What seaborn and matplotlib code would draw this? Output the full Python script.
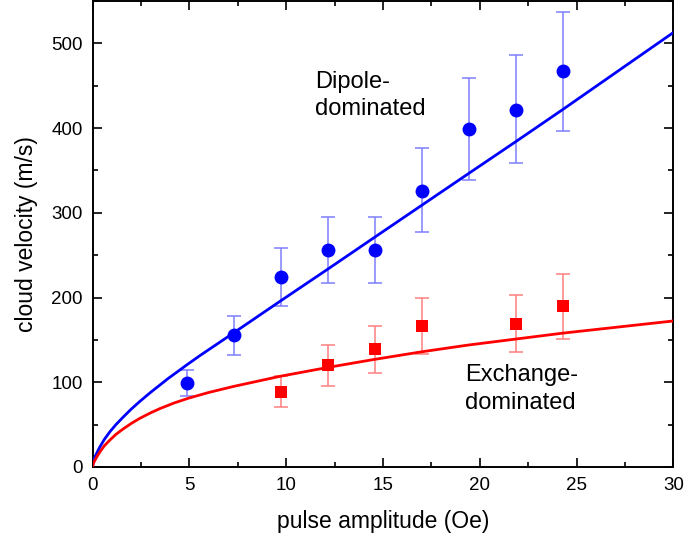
import numpy as np
import pandas as pd
import matplotlib
matplotlib.use("Agg")
import matplotlib.pyplot as plt
import seaborn as sns
from matplotlib.ticker import MultipleLocator

# ---- data ----
dip_x = [4.86, 7.28, 9.71, 12.14, 14.57, 17.0, 19.42, 21.85, 24.28]
dip_y = [99, 155.5, 224, 256.5, 256.5, 326, 399.5, 422, 467]
dip_lo = [84, 132, 190, 217.6, 217.6, 277, 339, 358.5, 397]
dip_hi = [114, 178, 258, 295, 295, 376, 459, 486, 537]

exc_x = [9.71, 12.14, 14.57, 17.0, 21.85, 24.28]
exc_y = [88.7, 120, 139, 166, 169, 190]
exc_lo = [71, 96, 111, 133, 136, 151.6]
exc_hi = [107, 144.5, 167, 199.5, 203, 228]

# fit curves
dipfit_x = [0, 0.03, 0.12, 0.2, 0.38, 0.6, 0.89, 1.2, 1.58, 2.0, 2.44, 2.96, 3.9, 4.86,
            5.54, 7.26, 9.67, 12.14, 14.55, 17.0, 19.42, 21.85, 24.28, 30]
dipfit_y = [0, 6, 12, 16, 24, 32.5, 41.6, 50, 59, 68.5, 77.5, 87.5, 104.5, 120.5,
            131.5, 158, 195.5, 233.5, 271, 309, 346.5, 384, 422, 513]
excfit_x = [0, 0.03, 0.12, 0.2, 0.38, 0.6, 0.89, 1.2, 1.58, 2.0, 2.44, 3.0, 3.48, 4.2,
            4.92, 6.0, 7.26, 9.67, 12.14, 14.55, 17.0, 19.42, 21.85, 24.28, 30]
excfit_y = [0, 4, 8, 11.5, 18, 25, 31.8, 38.5, 45, 51.5, 57.5, 64, 69, 75.5,
            81, 88, 95, 107, 117.5, 127, 136, 144, 151, 158, 172.4]

xlabel = "pulse amplitude (Oe)"
ylabel = "cloud velocity (m/s)"

sns.set_style("ticks")
plt.rcParams["font.family"] = ["Liberation Sans", "DejaVu Sans"]
plt.rcParams.update({"text.color": "black", "axes.labelcolor": "black",
                     "xtick.color": "black", "ytick.color": "black"})

fig = plt.figure(figsize=(6.85, 5.38), dpi=100)
ax = fig.add_axes([0.1353, 0.132, 0.9832 - 0.1353, 0.998 - 0.132])

BLUE = "#0000FF"
RED = "#FF0000"

dip = pd.DataFrame({"x": dip_x, "y": dip_y})
exc = pd.DataFrame({"x": exc_x, "y": exc_y})
dfit = pd.DataFrame({"x": dipfit_x, "y": dipfit_y})
efit = pd.DataFrame({"x": excfit_x, "y": excfit_y})

# error bars
ax.errorbar(dip_x, dip_y,
            yerr=[np.array(dip_y) - np.array(dip_lo), np.array(dip_hi) - np.array(dip_y)],
            fmt="none", ecolor="#7f7fff", elinewidth=1.1, capsize=5, capthick=1.1, zorder=2)
ax.errorbar(exc_x, exc_y,
            yerr=[np.array(exc_y) - np.array(exc_lo), np.array(exc_hi) - np.array(exc_y)],
            fmt="none", ecolor="#ff8080", elinewidth=1.1, capsize=5, capthick=1.1, zorder=2)

sns.lineplot(data=dfit, x="x", y="y", ax=ax, color=BLUE, linewidth=2.0, zorder=3, sort=False)
sns.lineplot(data=efit, x="x", y="y", ax=ax, color=RED, linewidth=2.0, zorder=3, sort=False)

sns.scatterplot(data=dip, x="x", y="y", ax=ax, color=BLUE, marker="o", s=100,
                edgecolor=BLUE, linewidth=0, zorder=4)
sns.scatterplot(data=exc, x="x", y="y", ax=ax, color=RED, marker="s", s=70,
                edgecolor=RED, linewidth=0, zorder=4)

ax.set_xlim(0, 30)
ax.set_ylim(0, 550)
ax.xaxis.set_major_locator(MultipleLocator(5))
ax.xaxis.set_minor_locator(MultipleLocator(2.5))
ax.yaxis.set_major_locator(MultipleLocator(100))
ax.yaxis.set_minor_locator(MultipleLocator(50))

for s in ax.spines.values():
    s.set_visible(True)
    s.set_linewidth(1.4)
    s.set_color("black")

ax.tick_params(which="both", direction="in", top=True, right=True, colors="black",
               labelsize=13.5, width=1.2)
ax.tick_params(which="major", length=6.5, pad=7)
ax.tick_params(which="minor", length=3.5)

ax.set_xlabel(xlabel, fontsize=16.5, labelpad=12)
ax.set_ylabel(ylabel, fontsize=16.5, labelpad=10)

ax.text(11.5, 468, "Dipole-\ndominated", fontsize=17, ha="left", va="top", linespacing=1.3)
ax.text(19.23, 121, "Exchange-\ndominated", fontsize=17, ha="left", va="top", linespacing=1.3)

fig.savefig("out.png", dpi=100)
